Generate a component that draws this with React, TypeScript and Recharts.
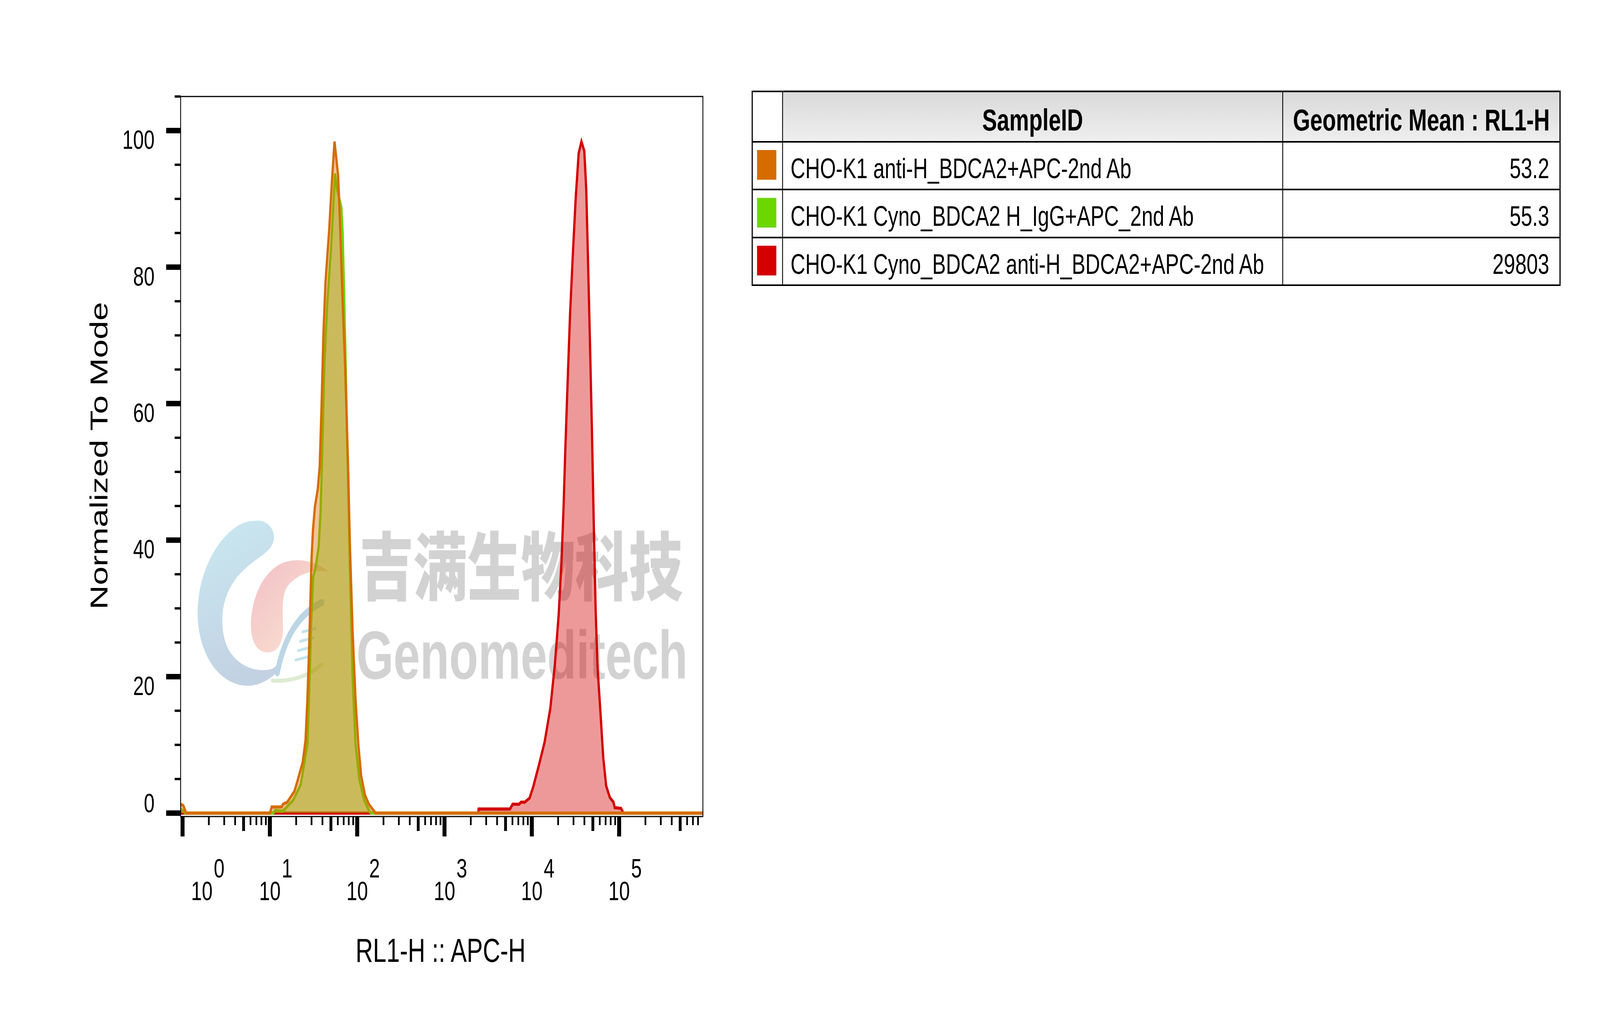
import React from 'react';
import { ComposedChart, Area, XAxis, YAxis, ReferenceArea } from 'recharts';

const FONT = '"Liberation Sans", Arial, Helvetica, sans-serif';
const PAGE_W = 5643;
const PAGE_H = 2598;

// table content
const sampleIds = [
  'CHO-K1 anti-H_BDCA2+APC-2nd Ab',
  'CHO-K1 Cyno_BDCA2 H_IgG+APC_2nd Ab',
  'CHO-K1 Cyno_BDCA2 anti-H_BDCA2+APC-2nd Ab',
];
const geoMeans = ['53.2', '55.3', '29803'];
const seriesColors = ['#d66c00', '#6cd600', '#d40000'];

// histograms: [RL1-H intensity, % of mode]
const choAntiH = [
  [0.95, 1.3], [1.02, 1.1], [1.1, 0], [10, 0], [10.5, 0.9], [13.7, 0.9], [14.1, 1.3],
  [15.8, 1.6], [19.1, 3.2], [20.9, 4.9], [23.8, 7.5], [25.6, 10.7], [26.9, 16.7],
  [28.2, 24.5], [29.4, 33.1], [30.1, 37.7], [31.2, 41.6], [32.8, 44.9], [35.4, 47.5],
  [37.2, 50.8], [39.0, 59.3], [41.1, 70.5], [43.3, 77.7], [47.8, 85.5], [51.4, 92.7],
  [55.0, 98.4], [60.5, 93.4], [63.4, 86.9], [67.8, 75.7], [72.9, 65.2], [78.7, 50.8],
  [82.4, 39.6], [88.7, 26.5], [95.7, 16.7], [103, 10.1], [111, 5.5], [123, 2.6],
  [136, 1.3], [154, 0.4], [162, 0], [910000, 0],
];
const cynoIgG = [
  [0.95, 0.6], [1.08, 0], [10.9, 0], [11.5, 0.4], [14.1, 0.3], [18.5, 1.9], [22.6, 4.2],
  [24.9, 7.5], [26.9, 10.1], [28.2, 18.0], [29.7, 27.8], [31.2, 34.4], [33.7, 36.3],
  [36.2, 39.0], [38.1, 44.2], [40.1, 54.7], [42.1, 65.9], [45.3, 74.4], [50.2, 82.9],
  [54.2, 90.8], [55.7, 93.7], [58.9, 91.4], [65.8, 88.8], [68.2, 84.9], [72.9, 69.1],
  [76.4, 56.0], [82.4, 36.3], [88.7, 19.9], [95.7, 10.1], [106, 4.9], [120, 1.9],
  [139, 0.2], [145, 0], [910000, 0],
];
const cynoAntiH = [
  [0.95, 0], [2430, 0], [2460, 0.6], [5620, 0.6], [6030, 1.3], [7140, 1.3], [7530, 1.6],
  [8300, 1.6], [9420, 2.2], [10400, 3.9], [12100, 7.1], [14000, 10.4], [16300, 15.4],
  [18400, 21.9], [20300, 29.1], [21900, 37.0], [23100, 44.9], [24200, 53.4], [25500, 61.9],
  [27400, 73.1], [29600, 82.3], [31800, 90.1], [34400, 96.7], [37000, 98.4], [39900, 97.0],
  [42000, 91.4], [44000, 81.0], [46300, 69.1], [48800, 56.0], [51100, 42.9], [53800, 29.8],
  [56600, 21.3], [61100, 14.7], [65800, 8.1], [71000, 4.0], [78200, 2.3], [86100, 1.6],
  [89000, 0.8], [105000, 0.7], [112000, 0], [910000, 0],
];

// axes
const X_MIN = 0.95;
const X_MAX = 910000;
const Y_MIN = -0.5;
const Y_MAX = 105;
const xTicks = [
  1, 2, 3, 4, 5, 6, 7, 8, 9,
  10, 20, 30, 40, 50, 60, 70, 80, 90,
  100, 200, 300, 400, 500, 600, 700, 800, 900,
  1000, 2000, 3000, 4000, 5000, 6000, 7000, 8000, 9000,
  10000, 20000, 30000, 40000, 50000, 60000, 70000, 80000, 90000,
  100000, 200000, 300000, 400000, 500000, 600000, 700000, 800000,
];
const yTicks = [0, 5, 10, 15, 20, 25, 30, 35, 40, 45, 50, 55, 60, 65, 70, 75, 80, 85, 90, 95, 100, 105];
const yLabelTicks = [0, 20, 40, 60, 80, 100];

// drawn back to front: red, green, orange on top
const series = [
  { key: 'r', points: cynoAntiH, color: seriesColors[2] },
  { key: 'g', points: cynoIgG, color: seriesColors[1] },
  { key: 'o', points: choAntiH, color: seriesColors[0] },
];

// one table keyed by intensity, gaps bridged with connectNulls
const rows = (() => {
  const m = new Map<number, any>();
  series.forEach((s) => {
    s.points.forEach(([x, y]) => {
      const row = m.get(x) ?? { x };
      row[s.key] = y;
      m.set(x, row);
    });
  });
  return Array.from(m.values()).sort((a, b) => a.x - b.x);
})();

const XTick = (props: any) => {
  const { x, y, payload } = props;
  const v = payload.value as number;
  const exp = Math.floor(Math.log10(v) + 1e-9);
  const mant = Math.round(v / Math.pow(10, exp));
  const major = mant === 1;
  const len = major ? 51 : mant === 5 ? 37 : 22;
  const w = major ? 14 : mant === 5 ? 10 : 6;
  const lx = x + (v === 1 ? 68 : 0);
  return (
    <g>
      <line x1={x} x2={x} y1={y} y2={y + len} stroke="#000" strokeWidth={w} />
      {major && (
        <g fontFamily={FONT} fontSize={68} fill="#000">
          <text x={lx} y={y + 214} textAnchor="middle">10</text>
          <text x={lx + 42} y={y + 156} textAnchor="start">{exp}</text>
        </g>
      )}
    </g>
  );
};

const YTick = (props: any) => {
  const { x, y, payload } = props;
  const v = payload.value as number;
  const major = yLabelTicks.includes(v);
  return (
    <g>
      <line x1={x - (major ? 51 : 21)} x2={x} y1={y} y2={y} stroke="#000" strokeWidth={major ? 14 : 6} />
      {major && (
        <text x={x - 92} y={v === 0 ? y - 2 : y + 47} textAnchor="end" fontFamily={FONT} fontSize={68} fill="#000">
          {v}
        </text>
      )}
    </g>
  );
};

const XTitle = (props: any) => {
  const vb = props.viewBox || { x: 637, y: 2090, width: 1842 };
  return (
    <text x={vb.x + vb.width / 2 - 4} y={vb.y + 372} textAnchor="middle" fontFamily={FONT} fontSize={85} fill="#000">
      RL1-H :: APC-H
    </text>
  );
};

const YTitle = (props: any) => {
  const vb = props.viewBox || { x: 337, y: 247, height: 1843 };
  const cx = vb.x + 42;
  const cy = vb.y + vb.height / 2 - 2;
  return (
    <text x={cx} y={cy} transform={`rotate(-90, ${cx}, ${cy})`} textAnchor="middle" fontFamily={FONT} fontSize={86} fill="#000">
      Normalized To Mode
    </text>
  );
};

// watermark (under the histograms) and the statistics table
function Backdrop() {
  const rowTop = [363, 485, 608];
  const rowH = 122.5;
  return (
    <svg width={PAGE_W} height={PAGE_H} style={{ position: 'absolute', left: 0, top: 0 }}>
      <defs>
        <linearGradient id="hdr" x1="0" y1="0" x2="0" y2="1">
          <stop offset="0" stopColor="#d9d9d9" />
          <stop offset="1" stopColor="#efefef" />
        </linearGradient>
        <linearGradient id="blueLogo" x1="0" y1="0" x2="0.3" y2="1">
          <stop offset="0" stopColor="#c9e9f1" />
          <stop offset="1" stopColor="#c3d2e3" />
        </linearGradient>
        <linearGradient id="pinkLogo" x1="0" y1="0" x2="1" y2="1">
          <stop offset="0" stopColor="#f2bfc6" />
          <stop offset="1" stopColor="#fbe6d3" />
        </linearGradient>
      </defs>

      <path
        d="M 902 1333 C 950 1328 985 1368 955 1400 C 935 1420 900 1432 870 1452 C 800 1495 770 1560 790 1630 C 810 1700 900 1725 960 1712 L 998 1692 C 985 1720 950 1745 895 1754 C 800 1765 710 1700 698 1590 C 688 1480 760 1380 840 1345 C 862 1336 882 1333 902 1333 Z"
        fill="url(#blueLogo)"
      />
      <path
        d="M 1159 1463 C 1120 1440 1060 1425 1000 1440 C 930 1460 885 1530 885 1600 C 885 1640 905 1668 940 1670 C 975 1672 998 1650 998 1610 C 998 1560 990 1520 1020 1495 C 1060 1465 1110 1458 1159 1463 Z"
        fill="url(#pinkLogo)"
      />
      <path d="M 978 1722 C 1000 1640 1045 1575 1135 1542" fill="none" stroke="#bcd6e6" strokeWidth={18} strokeLinecap="round" />
      <path d="M 960 1742 C 1030 1745 1090 1730 1135 1700" fill="none" stroke="#dcebd2" strokeWidth={10} strokeLinecap="round" />
      {[0, 1, 2, 3].map((i) => (
        <line key={i} x1={1040 + i * 8} y1={1690 - i * 24} x2={1092 + i * 8} y2={1680 - i * 24} stroke="#c4e3ee" strokeWidth={7} />
      ))}
      <text x={1268} y={1521} fontFamily='"Noto Sans CJK SC", sans-serif' fontWeight={900} fontSize={190} fill="#d2d2d2">
        吉满生物科技
      </text>
      <text x={1257} y={1737} fontFamily={FONT} fontWeight={700} fontSize={174} fill="#d2d2d2" textLength={1168} lengthAdjust="spacingAndGlyphs">
        Genomeditech
      </text>

      <rect x={2765} y={229} width={2742} height={496} fill="#e3e3e3" />
      <rect x={2653} y={234} width={2849} height={496} fill="#fff" />
      <rect x={2760} y={234} width={2742} height={129} fill="url(#hdr)" />
      {sampleIds.map((id, i) => (
        <g key={id}>
          <rect x={2670} y={384 + i * rowH} width={68} height={76} fill={seriesColors[i]} />
          <text x={2788} y={456 + i * rowH} fontFamily={FONT} fontSize={72} fill="#000">{id}</text>
          <text x={5464} y={456 + i * rowH} textAnchor="end" fontFamily={FONT} fontSize={72} fill="#000">{geoMeans[i]}</text>
        </g>
      ))}
      <text x={3642} y={334} textAnchor="middle" fontFamily={FONT} fontWeight={700} fontSize={78} fill="#000">SampleID</text>
      <text x={5013} y={334} textAnchor="middle" fontFamily={FONT} fontWeight={700} fontSize={78} fill="#000">Geometric Mean : RL1-H</text>
      <g stroke="#000" strokeWidth={4} fill="none">
        <rect x={2653} y={234} width={2849} height={496} />
        {rowTop.map((y) => (
          <line key={y} x1={2653} x2={5502} y1={y} y2={y} />
        ))}
        <line x1={2760} x2={2760} y1={234} y2={730} strokeWidth={3} />
        <line x1={4524} x2={4524} y1={234} y2={730} strokeWidth={3} />
      </g>
    </svg>
  );
}

export default function App() {
  // the browser may clamp the window below 5643 px; fit the full page into it
  const vw = typeof window !== 'undefined' ? window.innerWidth : PAGE_W;
  const vh = typeof window !== 'undefined' ? window.innerHeight : PAGE_H;
  const sx = vw / PAGE_W;
  const sy = vh / PAGE_H;

  return (
    <div style={{ position: 'fixed', left: 0, top: 0, right: 0, bottom: 0, overflow: 'hidden', background: '#fff' }}>
      <div
        style={{
          position: 'absolute',
          left: 0,
          top: 0,
          width: PAGE_W,
          height: PAGE_H,
          background: '#fff',
          transform: `scale(${sx}, ${sy})`,
          transformOrigin: '0 0',
        }}
      >
        <Backdrop />
        <div style={{ position: 'absolute', left: 0, top: 0 }}>
          <ComposedChart width={PAGE_W} height={PAGE_H} data={rows} margin={{ top: 247, right: 3164, bottom: 208, left: 337 }}>
            <XAxis
              dataKey="x"
              type="number"
              scale="log"
              domain={[X_MIN, X_MAX]}
              allowDataOverflow
              ticks={xTicks}
              interval={0}
              tickSize={0}
              tickMargin={0}
              axisLine={false}
              tickLine={false}
              tick={(p: any) => <XTick {...p} />}
              height={300}
              label={<XTitle />}
            />
            <YAxis
              type="number"
              domain={[Y_MIN, Y_MAX]}
              allowDataOverflow
              ticks={yTicks}
              interval={0}
              tickSize={0}
              tickMargin={0}
              axisLine={false}
              tickLine={false}
              tick={(p: any) => <YTick {...p} />}
              width={300}
              label={<YTitle />}
            />
            {series.map((s) => (
              <Area
                key={s.key}
                dataKey={s.key}
                type="linear"
                baseValue={0}
                connectNulls
                stroke={s.color}
                strokeWidth={8}
                fill={s.color}
                fillOpacity={0.4}
                dot={false}
                activeDot={false}
                isAnimationActive={false}
              />
            ))}
            <ReferenceArea x1={X_MIN} x2={X_MAX} y1={Y_MIN} y2={Y_MAX} fill="none" fillOpacity={0} stroke="#000" strokeWidth={3} ifOverflow="visible" />
          </ComposedChart>
        </div>
      </div>
    </div>
  );
}
